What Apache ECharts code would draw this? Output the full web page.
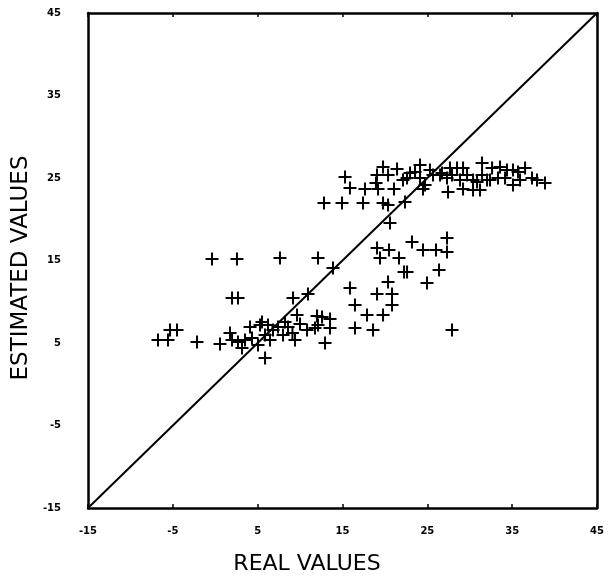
<!DOCTYPE html>
<html>
<head>
<meta charset="utf-8">
<script src="https://cdn.jsdelivr.net/npm/echarts@6/dist/echarts.min.js"></script>
<style>
html,body{margin:0;padding:0;background:#fff;}
#chart{width:613px;height:586px;}
</style>
</head>
<body>
<div id="chart"></div>
<script>
// Axis tick labels
const tickLabels = ['-15', '-5', '5', '15', '25', '35', '45'];
// Real values (x) and estimated values (y)
const realValues = [
  -6.75, -5.57, -5.33, -4.51, -2.15, 0.56, -0.38, 2.56, 7.63, 12.11,
  1.98, 2.68, 13.88, 9.17, 10.93,
  1.74, 1.98, 2.68, 3.51, 3.15, 4.10, 5.28, 5.87, 6.81, 5.87,
  7.40, 8.58, 7.99, 9.40, 9.64, 10.82, 11.76, 12.00, 12.59, 13.53,
  13.53, 12.94, 12.11, 5.51, 6.22, 8.22, 9.99, 4.33, 6.45, 9.10, 5.04,
  15.88, 19.07, 20.84, 20.84, 16.47, 17.89, 19.78, 16.47, 18.60, 27.91,
  19.07, 20.48, 23.19, 24.49, 26.02, 27.32, 27.32, 19.42, 21.66, 22.25,
  22.61, 26.38, 24.96, 20.37,
  12.82, 14.94, 17.42, 19.78, 20.37, 22.37, 20.60, 15.30, 15.88, 17.65,
  18.95, 19.19, 21.07, 19.07, 19.78, 21.43, 22.13, 22.96, 24.14, 24.14,
  24.49, 25.67, 22.61, 24.73, 27.44, 29.21, 30.39, 31.21, 26.73, 27.32,
  27.91, 27.67, 28.50, 29.21, 29.68, 30.39, 31.45, 31.45, 32.04, 32.63,
  33.33, 33.57, 34.16, 34.39, 35.10, 35.69, 35.93, 36.52, 37.34, 37.93,
  38.87, 26.50, 28.85, 30.86, 32.39, 35.10, 25.31, 23.55, 20.37
];
const estimatedValues = [
  5.36, 5.36, 6.58, 6.58, 5.12, 4.88, 15.18, 15.18, 15.30, 15.30,
  10.45, 10.45, 14.09, 10.45, 10.94,
  6.21, 5.36, 5.12, 5.36, 4.39, 6.94, 7.18, 5.97, 6.58, 3.18,
  6.94, 6.94, 5.97, 5.36, 8.39, 6.58, 6.82, 8.27, 8.15, 7.91,
  6.82, 5.00, 7.18, 7.55, 7.18, 7.55, 7.30, 5.61, 5.36, 6.21, 4.76,
  11.67, 10.94, 10.94, 9.61, 9.61, 8.39, 8.39, 6.82, 6.58, 6.58,
  16.52, 16.27, 17.24, 16.27, 16.27, 17.73, 16.03, 15.30, 15.30, 13.61,
  13.61, 13.85, 12.27, 12.39,
  21.97, 21.97, 21.97, 21.97, 21.73, 22.09, 19.55, 25.12, 23.79, 23.67,
  24.39, 23.67, 23.67, 25.36, 26.33, 26.09, 24.76, 25.61, 26.58, 25.00,
  23.67, 25.36, 25.00, 24.15, 23.30, 23.67, 23.55, 23.55, 25.61, 25.00,
  25.36, 26.21, 26.21, 26.21, 25.36, 24.76, 26.82, 25.36, 24.76, 26.21,
  25.00, 26.33, 25.00, 25.97, 24.15, 25.73, 24.76, 26.21, 25.00, 24.76,
  24.39, 25.36, 24.76, 24.52, 24.76, 25.97, 25.97, 25.73, 25.36
];
// Identity line endpoints
const identityLine = [-15, 45];

const points = realValues.map((x, i) => [x, estimatedValues[i]]);
const linePts = identityLine.map(v => [v, v]);

const plusPath = 'path://M0,5.5H13V7.5H0Z M5.5,0H7.5V13H5.5Z';
const labelFont = {fontFamily: 'DejaVu Sans', fontSize: 10, fontWeight: 'bold', color: '#000'};

const chart = echarts.init(document.getElementById('chart'), null, {renderer: 'canvas'});
const axisCommon = {
  type: 'value', min: -15, max: 45, interval: 10,
  splitLine: {show: false},
  axisLine: {show: true, onZero: false, lineStyle: {color: '#000', width: 2.5}}
};
chart.setOption({
  animation: false,
  backgroundColor: '#fff',
  grid: {left: 88, right: 16, top: 13, bottom: 78, containLabel: false},
  xAxis: [
    Object.assign({}, axisCommon, {
      position: 'bottom',
      axisTick: {show: true, inside: true, length: 4, lineStyle: {color: '#000', width: 1.5}},
      axisLabel: Object.assign({margin: 18, formatter: v => tickLabels[Math.round((v + 15) / 10)]}, labelFont)
    }),
    Object.assign({}, axisCommon, {
      position: 'top',
      axisTick: {show: true, inside: true, length: 4, lineStyle: {color: '#000', width: 1.5}},
      axisLabel: {show: false}
    })
  ],
  yAxis: [
    Object.assign({}, axisCommon, {
      position: 'left',
      axisTick: {show: false},
      axisLabel: Object.assign({margin: 27, formatter: v => tickLabels[Math.round((v + 15) / 10)]}, labelFont)
    }),
    Object.assign({}, axisCommon, {
      position: 'right',
      axisTick: {show: false},
      axisLabel: {show: false}
    })
  ],
  graphic: [
    {type: 'text', x: 307, y: 564,
     style: {text: 'REAL VALUES', fontFamily: 'DejaVu Sans', fontSize: 22, fill: '#000',
             align: 'center', verticalAlign: 'middle'}},
    {type: 'text', x: 21, y: 268, rotation: Math.PI / 2,
     style: {text: 'ESTIMATED VALUES', fontFamily: 'DejaVu Sans', fontSize: 23, fill: '#000',
             align: 'center', verticalAlign: 'middle'}}
  ],
  series: [
    {
      type: 'line', data: linePts, showSymbol: false, symbol: 'none',
      lineStyle: {color: '#000', width: 2}, z: 3
    },
    {
      type: 'scatter', data: points, symbol: plusPath, symbolSize: 13,
      itemStyle: {color: '#000', opacity: 1}, z: 4
    }
  ]
});
</script>
</body>
</html>
